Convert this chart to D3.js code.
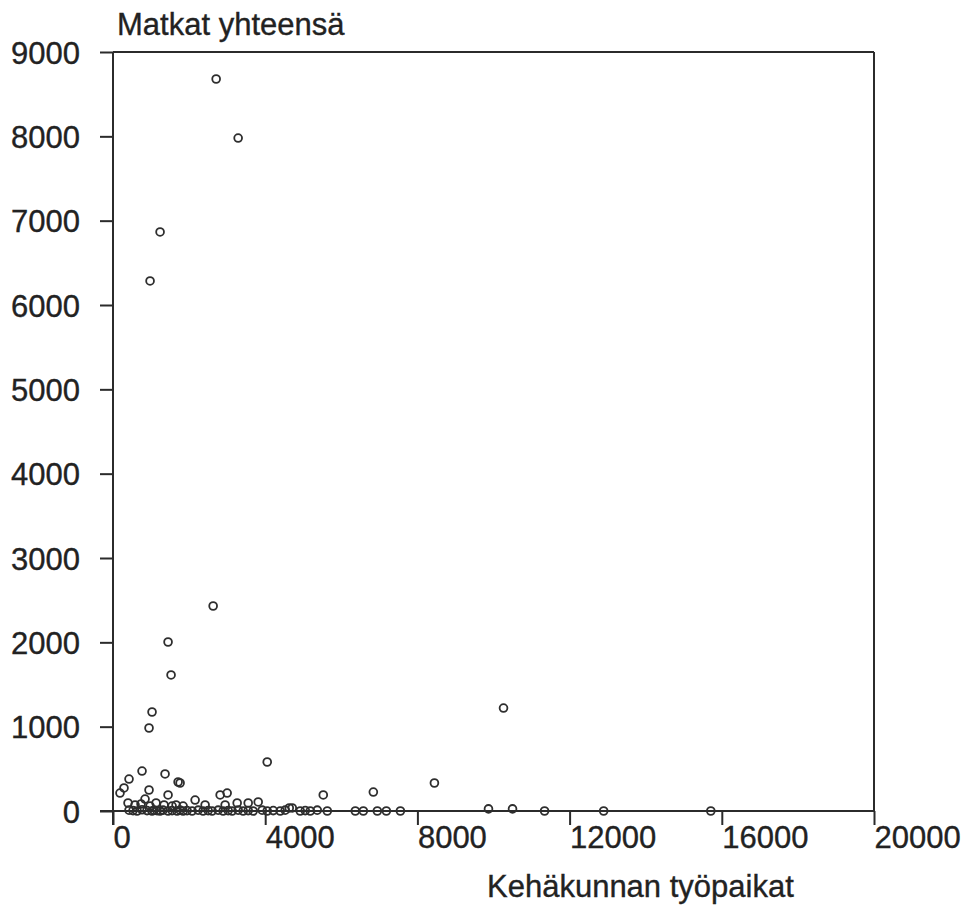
<!DOCTYPE html>
<html>
<head>
<meta charset="utf-8">
<script src="https://cdn.jsdelivr.net/npm/d3@7"></script>
<style>
  html, body { margin: 0; padding: 0; background: #fff; }
  svg { display: block; }
  text { font-family: "Liberation Sans", Arial, Helvetica, sans-serif; fill: #222; stroke: #222; stroke-width: 0.35px; }
</style>
</head>
<body>
<svg id="chart" width="968" height="909"></svg>
<script>
// Kehäkunnan työpaikat (x) vs. matkat yhteensä (y), one point per area
const jobs = [
  2711, 3289, 1237, 974, 2632, 1447, 1526, 1026, 947, 4053, 10263, 8447, 6842, 5526,
  184, 289, 421, 763, 1368, 1711, 1763, 947, 1447, 2816, 3000,
  395, 842, 2158, 3263, 3553, 3816, 2421, 2947, 737, 579, 1132, 1342, 1658, 1842,
  4632, 4711, 1553, 974,
  421, 526, 632, 763, 895, 1026, 1079, 1158, 1237, 1316, 1447, 1553, 1684, 1763,
  1842, 1947, 2079, 2237, 2368, 2500, 2605, 2763, 2895, 3026, 3132, 3289, 3421,
  3553, 3684, 3921, 4053, 4211, 4395, 4526, 4921, 5053, 5184, 5368, 5632,
  6368, 6579, 6947, 7184, 7553, 9868, 10500, 11342, 12895, 15711
];
const trips = [
  8680, 7980, 6866, 6285, 2431, 2004, 1613, 1174, 984, 581, 1221, 332, 225, 190,
  213, 273, 379, 474, 439, 344, 332, 249, 190, 190, 213,
  95, 142, 130, 95, 95, 107, 71, 71, 83, 71, 95, 71, 71, 59,
  36, 36, 59, 59,
  10, 5, 0, 15, 5, 0, 10, 5, 0, 10, 0, 5, 0, 10,
  0, 5, 0, 10, 0, 5, 0, 10, 0, 5, 0, 10, 0,
  5, 0, 10, 0, 5, 0, 10, 0, 5, 0, 10, 0,
  0, 0, 0, 0, 0, 25, 25, 0, 0, 0
];
const xTicks = [0, 4000, 8000, 12000, 16000, 20000];
const yTicks = [0, 1000, 2000, 3000, 4000, 5000, 6000, 7000, 8000, 9000];
const yTitle = "Matkat yhteensä";
const xTitle = "Kehäkunnan työpaikat";

const svg = d3.select("#chart");
const ink = "#2b2b2b";
const plotL = 113, plotR = 874, plotT = 52, plotB = 811;

const x = d3.scaleLinear().domain([0, 20000]).range([plotL, plotR]);
const y = d3.scaleLinear().domain([0, 9000]).range([plotB, plotT]);

// frame: top and right borders
svg.append("line").attr("x1", plotL).attr("x2", plotR).attr("y1", plotT).attr("y2", plotT)
  .attr("stroke", ink).attr("stroke-width", 2);
svg.append("line").attr("x1", plotR).attr("x2", plotR).attr("y1", plotT).attr("y2", plotB)
  .attr("stroke", ink).attr("stroke-width", 2);

// y axis
const yAxis = svg.append("g").attr("transform", `translate(${plotL},0)`)
  .call(d3.axisLeft(y).tickValues(yTicks).tickSize(13).tickPadding(20).tickFormat(d3.format("d")));
yAxis.select(".domain").attr("d", `M0,${plotT}V${plotB + 14}`).attr("stroke", ink).attr("stroke-width", 2);
yAxis.selectAll(".tick line").attr("stroke", ink).attr("stroke-width", 2);
yAxis.selectAll(".tick text").attr("font-size", 31).attr("font-family", "Liberation Sans, Arial, sans-serif")
  .attr("fill", "#222").attr("dy", "0.36em");

// x axis
const xAxis = svg.append("g").attr("transform", `translate(0,${plotB})`)
  .call(d3.axisBottom(x).tickValues(xTicks).tickSize(14).tickFormat(d3.format("d")));
xAxis.select(".domain").attr("d", `M${plotL - 13},0H${plotR}`).attr("stroke", ink).attr("stroke-width", 2);
xAxis.selectAll(".tick line").attr("stroke", ink).attr("stroke-width", 2);
xAxis.selectAll(".tick text").attr("font-size", 31).attr("font-family", "Liberation Sans, Arial, sans-serif")
  .attr("fill", "#222").attr("text-anchor", "start").attr("x", 0).attr("y", 37).attr("dy", 0);

// axis titles
svg.append("text").attr("x", 117).attr("y", 35).attr("font-size", 31).text(yTitle);
svg.append("text").attr("x", 487).attr("y", 897).attr("font-size", 31).text(xTitle);

// points
const pts = jobs.map((v, i) => ({ jobs: v, trips: trips[i] }));
svg.append("g").selectAll("circle").data(pts).join("circle")
  .attr("cx", d => x(d.jobs))
  .attr("cy", d => y(d.trips))
  .attr("r", 3.9)
  .attr("fill", "none")
  .attr("stroke", "#2e2e2e")
  .attr("stroke-width", 1.8);
</script>
</body>
</html>
